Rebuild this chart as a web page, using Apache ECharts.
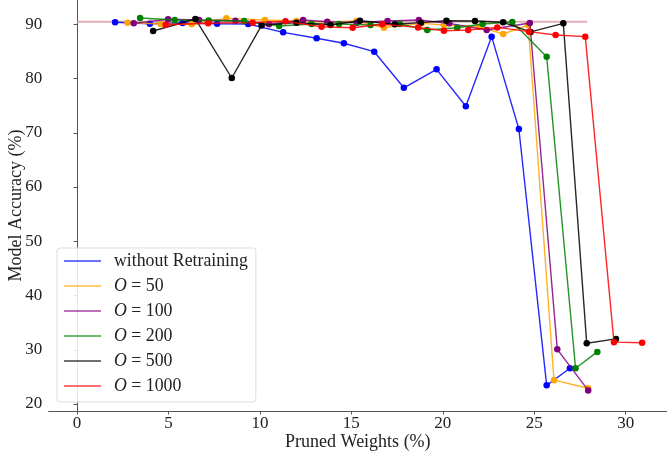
<!DOCTYPE html>
<html>
<head>
<meta charset="utf-8">
<script src="https://cdn.jsdelivr.net/npm/echarts@6/dist/echarts.min.js"></script>
<style>
html,body{margin:0;padding:0;background:#fff;}
#chart{width:667px;height:457px;}
</style>
</head>
<body>
<div id="chart"></div>
<script>
// ---- data ----
const xTicks = [0, 5, 10, 15, 20, 25, 30];
const yTicks = [20, 30, 40, 50, 60, 70, 80, 90];
const seriesNames = ['without Retraining', 'O = 50', 'O = 100', 'O = 200', 'O = 500', 'O = 1000'];

const blueX = [2.08, 3.98, 5.77, 7.66, 9.36, 11.27, 13.1, 14.59, 16.25, 17.87, 19.66, 21.26, 22.67, 24.16, 25.68, 26.95];
const blueY = [90.37, 90.11, 90.24, 90.11, 90.05, 88.52, 87.42, 86.5, 84.95, 78.3, 81.7, 74.9, 87.72, 70.7, 23.44, 26.6];

const orangeX = [2.76, 4.58, 6.27, 8.17, 10.27, 12.0, 13.7, 15.28, 16.78, 18.84, 20.06, 21.99, 23.3, 24.67, 26.08, 27.95];
const orangeY = [90.3, 90.05, 90.0, 91.1, 90.79, 90.6, 90.4, 90.6, 89.37, 90.18, 89.87, 89.56, 88.21, 89.87, 24.4, 22.9];

const purpleX = [3.1, 4.98, 6.67, 8.66, 10.5, 12.36, 13.68, 15.3, 16.98, 18.69, 20.35, 22.4, 24.76, 26.26, 27.95];
const purpleY = [90.18, 90.92, 90.79, 90.66, 90.0, 90.79, 90.48, 90.3, 90.6, 90.79, 90.18, 88.95, 90.24, 30.08, 22.5];

const greenX = [3.45, 5.34, 7.2, 9.14, 11.05, 12.82, 14.33, 16.05, 17.65, 19.15, 20.79, 22.18, 23.8, 25.68, 27.26, 28.45];
const greenY = [91.16, 90.79, 90.7, 90.6, 89.7, 90.05, 90.05, 89.87, 90.05, 88.95, 89.37, 90.05, 90.42, 84.03, 26.6, 29.6];

const blackX = [4.16, 6.47, 8.46, 10.09, 12.0, 13.86, 15.47, 17.38, 18.8, 20.2, 21.76, 23.3, 24.8, 26.59, 27.87, 29.47];
const blackY = [88.76, 90.98, 80.1, 89.8, 90.3, 89.87, 90.66, 90.0, 90.3, 90.66, 90.6, 90.37, 88.6, 90.18, 31.2, 32.0];

const redX = [4.85, 7.17, 9.6, 11.4, 13.37, 15.07, 16.69, 18.65, 20.06, 21.39, 22.98, 24.71, 26.17, 27.79, 29.36, 30.9];
const redY = [89.93, 90.18, 90.3, 90.55, 89.56, 89.37, 90.0, 89.43, 88.82, 88.95, 89.43, 88.64, 88.03, 87.72, 31.4, 31.3];

const baselineX = [0, 27.9];
const baselineY = [90.48, 90.48];

const colors = ['#0000ff', '#ffa500', '#800080', '#008000', '#000000', '#ff0000'];

function zip(xs, ys) { return xs.map((x, i) => [x, ys[i]]); }
const allData = [zip(blueX, blueY), zip(orangeX, orangeY), zip(purpleX, purpleY), zip(greenX, greenY), zip(blackX, blackY), zip(redX, redY)];

const FONT = '"Liberation Serif", "DejaVu Serif", serif';

const series = [{
  name: 'baseline',
  type: 'line',
  data: zip(baselineX, baselineY),
  symbol: 'none',
  lineStyle: { color: '#d99aa4', width: 2, opacity: 0.8 },
  silent: true,
  z: 1
}];
allData.forEach((d, i) => {
  series.push({
    name: seriesNames[i],
    type: 'line',
    data: d,
    symbol: 'circle',
    symbolSize: 6.5,
    showSymbol: true,
    itemStyle: { color: colors[i] },
    lineStyle: { color: colors[i], width: 1.4, opacity: 0.85 },
    animation: false,
    z: 2 + i
  });
});

const chart = echarts.init(document.getElementById('chart'), null, { renderer: 'canvas' });
chart.setOption({
  animation: false,
  backgroundColor: '#ffffff',
  grid: { left: 48.7, right: 0, top: 0, bottom: 46, containLabel: false, outerBoundsMode: 'none' },
  xAxis: {
    type: 'value',
    min: -1.55,
    max: 32.26,
    name: 'Pruned Weights (%)',
    nameLocation: 'middle',
    nameGap: 22,
    nameMoveOverlap: false,
    nameTextStyle: { fontFamily: FONT, fontSize: 18, color: '#222' },
    splitLine: { show: false },
    axisLine: { show: true, lineStyle: { color: '#555', width: 1 } },
    axisTick: { show: true, length: 3.5, lineStyle: { color: '#555' }, customValues: xTicks },
    axisLabel: { customValues: xTicks, fontFamily: FONT, fontSize: 17, color: '#222', margin: 4 }
  },
  yAxis: {
    type: 'value',
    min: 18.71,
    max: 94.48,
    name: 'Model Accuracy (%)',
    nameLocation: 'middle',
    nameGap: 23,
    nameMoveOverlap: false,
    nameTextStyle: { fontFamily: FONT, fontSize: 18, color: '#222' },
    splitLine: { show: false },
    axisLine: { show: true, lineStyle: { color: '#555', width: 1 } },
    axisTick: { show: true, length: 3.5, lineStyle: { color: '#555' }, customValues: yTicks },
    axisLabel: { customValues: yTicks, fontFamily: FONT, fontSize: 17, color: '#222', margin: 6.5 }
  },
  legend: {
    orient: 'vertical',
    left: 57,
    top: 248,
    data: seriesNames.map((n, i) => ({ name: n, icon: 'rect', itemStyle: { color: colors[i], opacity: 0.75 } })),
    itemWidth: 37,
    itemHeight: 1.5,
    itemGap: 5,
    padding: [3, 8, 6, 7],
    backgroundColor: 'rgba(255,255,255,0.85)',
    borderColor: '#dddddd',
    borderWidth: 1,
    borderRadius: 3,
    formatter: function (name) {
      if (name.indexOf('O = ') === 0) return '{i|O} = ' + name.slice(4);
      return name;
    },
    textStyle: {
      fontFamily: FONT, fontSize: 17.8, color: '#222', lineHeight: 20, padding: [0, 0, 0, 8],
      rich: { i: { fontFamily: FONT, fontStyle: 'italic', fontSize: 17.8, color: '#222', lineHeight: 20 } }
    }
  },
  series: series
});
</script>
</body>
</html>
